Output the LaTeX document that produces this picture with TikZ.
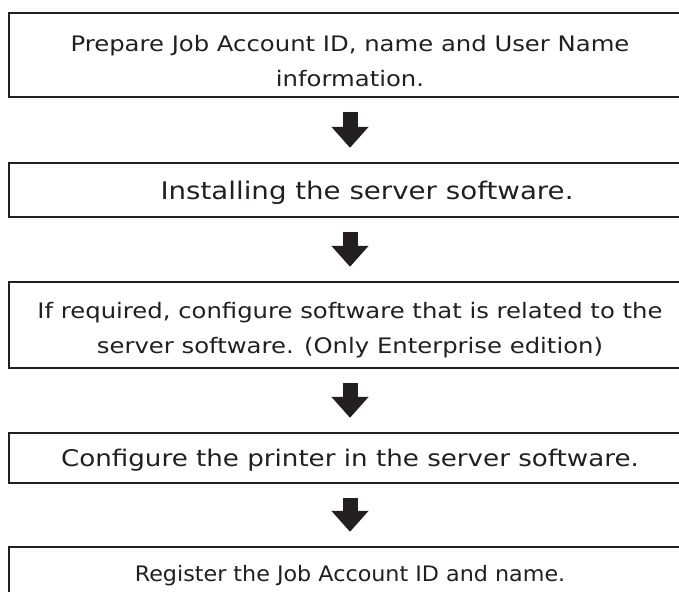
\documentclass[tikz,border=0pt]{standalone}
\usepackage{fontspec}
\setmainfont{DejaVu Sans}[FakeStretch=1.14]
\usetikzlibrary{arrows.meta}
\definecolor{ink}{HTML}{231F20}
\begin{document}
\begin{tikzpicture}[x=0.75pt,y=-0.75pt,
  stepbox/.style={draw=ink, line width=1.8pt, inner sep=0pt,
    minimum width={682*0.75pt}},
  steptext/.style={text=ink, inner sep=0pt, align=center,
    font=\fontsize{16pt}{26.25pt}\selectfont},
  bigtext/.style={font=\fontsize{18.2pt}{26.25pt}\selectfont},
  midtext/.style={font=\fontsize{17.2pt}{26.25pt}\selectfont},
  flowarrow/.style={draw=ink, line width=11.25pt,
    -{Triangle[length=15.75pt,width=27pt,fill=ink]},
    shorten <=14*0.75pt, shorten >=14*0.75pt}]
  \useasboundingbox (0,0) rectangle (679,592);
  \clip (0,0) rectangle (679,592);

  % step boxes (they run off the right and bottom edges)
  \node[stepbox, minimum height={84*0.75pt}] (b1) at (350,55) {};
  \node[stepbox, minimum height={54*0.75pt}] (b2) at (350,190) {};
  \node[stepbox, minimum height={86*0.75pt}] (b3) at (350,325) {};
  \node[stepbox, minimum height={50*0.75pt}] (b4) at (350,458) {};
  \node[stepbox, minimum height={100*0.75pt}] (b5) at (350,597) {};

  % step texts
  \node[steptext] (t1) at ([yshift=-6*0.75pt]b1.center)
    {Prepare Job Account ID, name and User Name\\information.};
  \node[steptext, bigtext] (t2) at ([xshift=17*0.75pt,yshift=-3*0.75pt]b2.center)
    {Installing the server software.};
  \node[steptext] (t3) at ([yshift=-5*0.75pt]b3.center)
    {If required, configure software that is related to the\\server software. (Only Enterprise edition)};
  \node[steptext, midtext] (t4) at ([yshift=-2*0.75pt]b4.center)
    {Configure the printer in the server software.};
  \node[steptext] (t5) at (350,576)
    {\scalebox{0.915}[1]{Register the Job Account ID and name.}};

  % arrows between the steps
  \draw[flowarrow] (b1.south) -- (b2.north);
  \draw[flowarrow] (b2.south) -- (b3.north);
  \draw[flowarrow] (b3.south) -- (b4.north);
  \draw[flowarrow] (b4.south) -- (b5.north);
\end{tikzpicture}
\end{document}
